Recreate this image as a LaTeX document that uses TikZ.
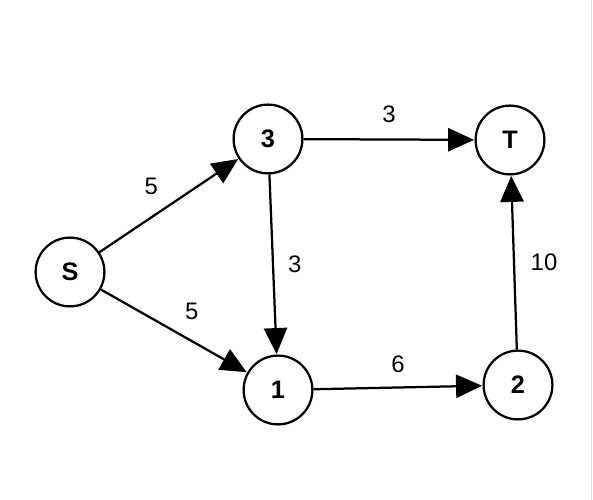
\documentclass[tikz,border=0pt]{standalone}
\usepackage{fontspec}
\setmainfont{Liberation Sans}
\usetikzlibrary{arrows.meta,positioning}

\begin{document}
\begin{tikzpicture}[
  x=0.25mm, y=-0.25mm,
  >={Triangle[length=6.5mm, width=5.8mm]},
  vertex/.style={circle, draw, line width=1.6pt, minimum size=17.2mm, inner sep=0pt,
                 font=\fontsize{18}{20}\selectfont\bfseries},
  arc/.style={->, line width=1.6pt, shorten >=0.3pt},
  caplbl/.style={font=\fontsize{17}{19}\selectfont, inner sep=0pt},
]
\useasboundingbox (0,0) rectangle (593,500);

% --- vertices ---
\node[vertex] (s) at (70,272)  {S};
\node[vertex] (n3) at (268,139) {3};
\node[vertex] (t) at (510,140) {T};
\node[vertex] (n1) at (278,390) {1};
\node[vertex] (n2) at (518,385) {2};

% --- arcs with capacities ---
\draw[arc] (s)  -- node[caplbl, above left=3.5mm] {5} (n3);
\draw[arc] (s)  -- node[caplbl, above right=3.5mm] {5} (n1);
\draw[arc] (n3) -- node[caplbl, above=3.8mm] {3} (t);
\draw[arc] (n3) -- node[caplbl, right=3.5mm] {3} (n1);
\draw[arc] (n1) -- node[caplbl, above=3.3mm] {6} (n2);
\draw[arc] (n2) -- node[caplbl, right=3.9mm] {10} (t);

% faint page edge at the right
\draw[black!12, line width=0.6pt] (591,0) -- (591,500);
\end{tikzpicture}
\end{document}
